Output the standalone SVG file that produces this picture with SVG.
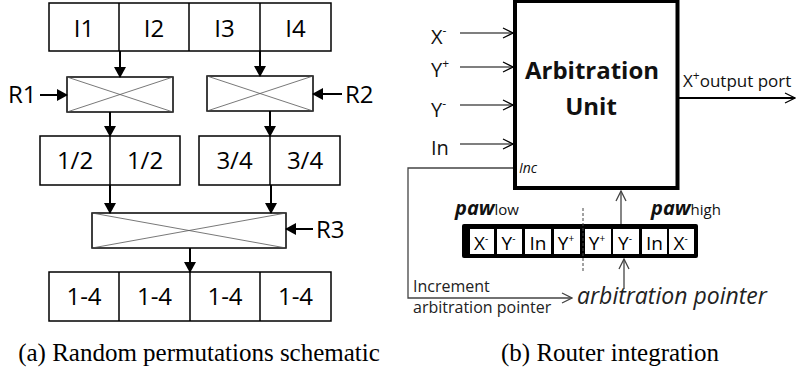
<svg xmlns="http://www.w3.org/2000/svg" width="796" height="371" viewBox="0 0 796 371">
<style>
.box{fill:#fff;stroke:#000;stroke-width:1.5}
.mux{fill:#fff;stroke:#000;stroke-width:1.5}
.x{stroke:#555;stroke-width:0.8;fill:none}
.t{font-family:"Open Sans","Liberation Sans",sans-serif;font-size:24px;fill:#000;text-anchor:middle}
.lab{font-family:"Open Sans","Liberation Sans",sans-serif;font-size:24px;fill:#000}
.in{font-family:"Open Sans","Liberation Sans",sans-serif;font-size:20px;fill:#111}
.cap{font-family:"Liberation Serif","DejaVu Serif",serif;font-size:25px;fill:#000;text-anchor:middle}
.fa{stroke:#000;stroke-width:2;fill:none}
.oa{stroke:#000;stroke-width:1.2;fill:none}
.ct{font-family:"Open Sans","Liberation Sans",sans-serif;font-size:19px;fill:#000;text-anchor:middle}
</style>
<defs>
<marker id="fh" markerWidth="12" markerHeight="12" refX="10" refY="6" orient="auto" markerUnits="userSpaceOnUse">
<path d="M0,0 L11,6 L0,12 Z" fill="#000"/>
</marker>
<marker id="oh" markerWidth="12" markerHeight="12" refX="11" refY="6" orient="auto" markerUnits="userSpaceOnUse">
<path d="M1,1 L11,6 L1,11" fill="none" stroke="#000" stroke-width="1.2"/>
</marker>
<marker id="ohg" markerWidth="12" markerHeight="12" refX="11" refY="6" orient="auto" markerUnits="userSpaceOnUse">
<path d="M1,1 L11,6 L1,11" fill="none" stroke="#444" stroke-width="1.3"/>
</marker>
</defs>

<!-- Left diagram -->
<g id="inputs">
<rect class="box" x="49" y="3" width="282" height="48"/>
<line x1="119" y1="3" x2="119" y2="51" stroke="#000" stroke-width="1.5"/>
<line x1="189" y1="3" x2="189" y2="51" stroke="#000" stroke-width="1.5"/>
<line x1="260" y1="3" x2="260" y2="51" stroke="#000" stroke-width="1.5"/>
<text class="t" x="84" y="37">I1</text>
<text class="t" x="154" y="37">I2</text>
<text class="t" x="224.5" y="37">I3</text>
<text class="t" x="295.5" y="37">I4</text>
</g>
<g id="R1">
<rect class="mux" x="67" y="77" width="106" height="35"/>
<path class="x" d="M67,77 L173,112 M67,112 L173,77"/>
<text class="lab" x="8" y="103">R1</text>
</g>
<g id="R2">
<rect class="mux" x="207" y="76" width="106" height="35"/>
<path class="x" d="M207,76 L313,111 M207,111 L313,76"/>
<text class="lab" x="345" y="103">R2</text>
</g>
<g id="mid-left">
<rect class="box" x="40" y="136" width="140" height="49"/>
<line x1="110" y1="136" x2="110" y2="185" stroke="#000" stroke-width="1.5"/>
<text class="t" x="75" y="169">1/2</text>
<text class="t" x="145" y="169">1/2</text>
</g>
<g id="mid-right">
<rect class="box" x="199" y="136" width="141" height="49"/>
<line x1="270" y1="136" x2="270" y2="185" stroke="#000" stroke-width="1.5"/>
<text class="t" x="234.5" y="169">3/4</text>
<text class="t" x="305" y="169">3/4</text>
</g>
<g id="R3">
<rect class="mux" x="92" y="213" width="194" height="35"/>
<path class="x" d="M92,213 L286,248 M92,248 L286,213"/>
<text class="lab" x="316" y="238">R3</text>
</g>
<g id="outputs">
<rect class="box" x="49" y="272" width="282" height="49"/>
<line x1="119" y1="272" x2="119" y2="321" stroke="#000" stroke-width="1.5"/>
<line x1="190" y1="272" x2="190" y2="321" stroke="#000" stroke-width="1.5"/>
<line x1="260" y1="272" x2="260" y2="321" stroke="#000" stroke-width="1.5"/>
<text class="t" x="84" y="305">1-4</text>
<text class="t" x="154.5" y="305">1-4</text>
<text class="t" x="225" y="305">1-4</text>
<text class="t" x="295.5" y="305">1-4</text>
</g>
<g id="connectors-left">
<line class="fa" x1="120" y1="51" x2="120" y2="77" marker-end="url(#fh)"/>
<line class="fa" x1="260" y1="51" x2="260" y2="76" marker-end="url(#fh)"/>
<line class="fa" x1="40" y1="95" x2="67" y2="95" marker-end="url(#fh)"/>
<line class="fa" x1="342" y1="94" x2="313" y2="94" marker-end="url(#fh)"/>
<line class="fa" x1="110" y1="112" x2="110" y2="136" marker-end="url(#fh)"/>
<line class="fa" x1="270" y1="111" x2="270" y2="136" marker-end="url(#fh)"/>
<line class="fa" x1="110" y1="185" x2="110" y2="213" marker-end="url(#fh)"/>
<line class="fa" x1="271" y1="185" x2="271" y2="213" marker-end="url(#fh)"/>
<line class="fa" x1="313" y1="229" x2="286" y2="229" marker-end="url(#fh)"/>
<line class="fa" x1="190" y1="248" x2="190" y2="272" marker-end="url(#fh)"/>
</g>
<text class="cap" x="199" y="361">(a) Random permutations schematic</text>

<!-- Right diagram -->
<g id="arbitration-unit">
<rect x="515" y="1" width="162.5" height="187" fill="#fff" stroke="#000" stroke-width="4"/>
<text x="592" y="79" font-family="Open Sans,Liberation Sans,sans-serif" font-size="24" font-weight="bold" text-anchor="middle" fill="#111">Arbitration</text>
<text x="591" y="115" font-family="Open Sans,Liberation Sans,sans-serif" font-size="24" font-weight="bold" text-anchor="middle" fill="#111">Unit</text>
<text x="519" y="173" font-family="Open Sans,Liberation Sans,sans-serif" font-size="14" font-style="italic" fill="#111">Inc</text>
</g>
<g id="input-labels">
<text class="in" x="431" y="44">X<tspan font-size="12" dy="-9">-</tspan></text>
<text class="in" x="431" y="77">Y<tspan font-size="12" dy="-9">+</tspan></text>
<text class="in" x="431" y="117">Y<tspan font-size="12" dy="-9">-</tspan></text>
<text class="in" x="431" y="155">In</text>
</g>
<g id="output-label">
<text x="683" y="87" font-family="Open Sans,Liberation Sans,sans-serif" font-size="17" fill="#111">X<tspan font-size="12" dy="-7">+</tspan><tspan dy="7">output port</tspan></text>
</g>
<g id="register">
<rect x="462" y="224" width="236" height="34" rx="2" fill="#000"/>
<rect x="470" y="229" width="24" height="25" fill="#fff"/>
<rect x="497" y="229" width="25" height="25" fill="#fff"/>
<rect x="525" y="229" width="26" height="25" fill="#fff"/>
<rect x="554" y="229" width="26" height="25" fill="#fff"/>
<rect x="585" y="229" width="26" height="25" fill="#fff"/>
<rect x="613" y="229" width="26" height="25" fill="#fff"/>
<rect x="642" y="229" width="25" height="25" fill="#fff"/>
<rect x="669" y="229" width="25" height="25" fill="#fff"/>
<text class="ct" x="481" y="250">X<tspan font-size="10" dy="-8">-</tspan></text>
<text class="ct" x="508.5" y="250">Y<tspan font-size="10" dy="-8">-</tspan></text>
<text class="ct" x="538" y="250">In</text>
<text class="ct" x="566" y="250">Y<tspan font-size="10" dy="-8">+</tspan></text>
<text class="ct" x="597" y="250">Y<tspan font-size="10" dy="-8">+</tspan></text>
<text class="ct" x="625" y="250">Y<tspan font-size="10" dy="-8">-</tspan></text>
<text class="ct" x="654.5" y="250">In</text>
<text class="ct" x="680.5" y="250">X<tspan font-size="10" dy="-8">-</tspan></text>
</g>
<g id="paw-labels">
<text x="455" y="215" font-family="Open Sans,Liberation Sans,sans-serif" font-size="20" font-weight="bold" font-style="italic" fill="#111">paw<tspan font-size="15" font-weight="normal" font-style="normal">low</tspan></text>
<text x="651" y="215" font-family="Open Sans,Liberation Sans,sans-serif" font-size="20" font-weight="bold" font-style="italic" fill="#111">paw<tspan font-size="15" font-weight="normal" font-style="normal">high</tspan></text>
</g>
<g id="pointer-labels">
<text x="413" y="292" font-family="Open Sans,Liberation Sans,sans-serif" font-size="16" fill="#222">Increment</text>
<text x="413" y="313" font-family="Open Sans,Liberation Sans,sans-serif" font-size="16" fill="#222">arbitration pointer</text>
<text x="577" y="304" font-family="Open Sans,Liberation Sans,sans-serif" font-size="23" font-style="italic" fill="#222">arbitration pointer</text>
</g>
<g id="connectors-right">
<line class="oa" x1="460" y1="33" x2="513" y2="33" marker-end="url(#oh)"/>
<line class="oa" x1="460" y1="67" x2="513" y2="67" marker-end="url(#oh)"/>
<line class="oa" x1="460" y1="105" x2="513" y2="105" marker-end="url(#oh)"/>
<line class="oa" x1="460" y1="144" x2="513" y2="144" marker-end="url(#oh)"/>
<line x1="679" y1="98" x2="795" y2="98" stroke="#000" stroke-width="2.2" marker-end="url(#oh)"/>
<polyline points="513,168 408,168 408,298 572,298" fill="none" stroke="#444" stroke-width="1.3" marker-end="url(#ohg)"/>
<line x1="621" y1="224" x2="621" y2="191" stroke="#444" stroke-width="1.3" marker-end="url(#ohg)"/>
<line x1="624" y1="289" x2="624" y2="259" stroke="#444" stroke-width="1.3" marker-end="url(#ohg)"/>
<line x1="583" y1="208" x2="583" y2="273" stroke="#444" stroke-width="1" stroke-dasharray="3,2"/>
</g>
<text class="cap" x="610" y="361">(b) Router integration</text>
</svg>
